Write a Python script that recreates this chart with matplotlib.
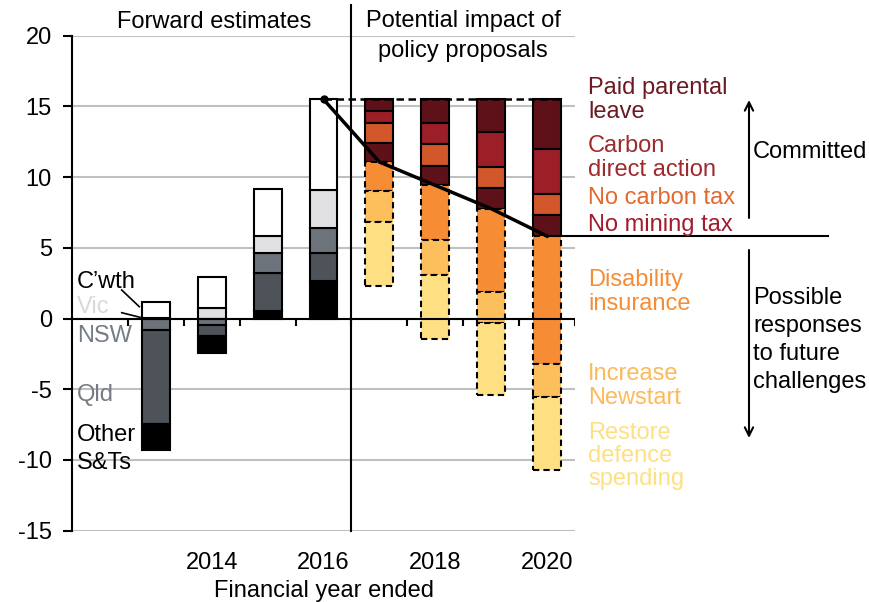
import numpy as np
import matplotlib.pyplot as plt
from matplotlib.patches import FancyArrowPatch
from matplotlib.lines import Line2D

plt.rcParams['font.family'] = ['Liberation Sans', 'DejaVu Sans']
plt.rcParams['font.size'] = 17
plt.rcParams['axes.unicode_minus'] = False

# forward estimates by jurisdiction
fwd_years = [2013, 2014, 2015, 2016]
cwth  = [1.15, 2.20, 3.33, 6.40]
vic   = [0.05, 0.75, 1.23, 2.67]
nsw   = [-0.80, -0.47, 1.42, 1.78]
qld   = [-6.63, -0.78, 2.67, 2.00]
other = [-1.85, -1.18, 0.52, 2.65]

# policy proposals (reduction from the 2016 level)
pol_years     = [2017, 2018, 2019, 2020]
paid_parental = [0.83, 1.66, 2.34, 3.54]
carbon_action = [0.83, 1.51, 2.44, 3.18]
no_carbon_tax = [1.42, 1.56, 1.46, 1.48]
no_mining_tax = [1.35, 1.35, 1.49, 1.47]
disability    = [2.07, 3.90, 5.91, 9.01]
newstart      = [2.18, 2.41, 2.19, 2.36]
defence       = [4.49, 4.56, 5.07, 5.20]

tick_years = [2014, 2016, 2018, 2020]

W, H = 870, 602

def px(x, y):
    return x / W, 1 - y / H

fig = plt.figure(figsize=(W / 100, H / 100), dpi=100)
ax = fig.add_axes([72 / W, 1 - 530.7 / H, (575 - 72) / W, (530.7 - 35.7) / H])

ax.set_xlim(2011.5, 2020.5)
ax.set_ylim(-15, 20)
ax.set_yticks(range(-15, 21, 5))
ax.yaxis.grid(True, color='#c0c0c0', lw=1.5)
ax.set_axisbelow(True)
for s in ['top', 'right', 'bottom']:
    ax.spines[s].set_visible(False)
ax.spines['left'].set_linewidth(1.5)
ax.tick_params(axis='y', direction='out', length=6.5, width=1.5, pad=8)
ax.set_xticks(tick_years)
ax.tick_params(axis='x', length=0, pad=15)
ax.set_xlabel('Financial year ended', labelpad=5)

bw = 0.5

#--- forward estimate bars
fwd_series = [(cwth, 'white'), (vic, '#e1e1e3'), (nsw, '#6d737b'),
              (qld, '#4e535a'), (other, 'black')]
for i, yr in enumerate(fwd_years):
    pos = 0.0
    for vals, col in reversed(fwd_series):
        v = vals[i]
        if v > 0:
            ax.bar(yr, v, bw, bottom=pos, color=col, edgecolor='black', lw=1.5, zorder=3)
            pos += v
    neg = 0.0
    for vals, col in fwd_series:
        v = vals[i]
        if v < 0:
            ax.bar(yr, v, bw, bottom=neg, color=col, edgecolor='black', lw=1.5, zorder=3)
            neg += v

start = cwth[-1] + vic[-1] + nsw[-1] + qld[-1] + other[-1]

#--- policy bars, stacked down from the 2016 level
committed = [(paid_parental, '#5e1118'), (carbon_action, '#9c1f27'),
             (no_carbon_tax, '#d2572b'), (no_mining_tax, '#5e1118')]
responses = [(disability, '#f68d35'), (newstart, '#fdbf5c'), (defence, '#fee083')]

base_line = []
for i, yr in enumerate(pol_years):
    lvl = start
    for vals, col in committed:
        ax.bar(yr, vals[i], bw, bottom=lvl - vals[i], color=col,
               edgecolor='black', lw=1.5, zorder=3)
        lvl -= vals[i]
    base_line.append(lvl)
    for vals, col in responses:
        ax.bar(yr, vals[i], bw, bottom=lvl - vals[i], color=col,
               edgecolor='black', lw=1.5, ls=(0, (3, 2)), zorder=3)
        lvl -= vals[i]

# zero axis with tick marks between categories
ax.axhline(0, color='black', lw=1.5, zorder=5)
ax.vlines(np.arange(2012.5, 2020.6, 1), 0, -0.55, color='black', lw=1.5, zorder=5)

# divider between forward estimates and proposals
ax.axvline(2016.5, ymin=0, ymax=1 + 30.7 / 495, color='black', lw=1.5, clip_on=False, zorder=5)

# top dashed level and path of committed measures
ax.plot([2016, 2020.25], [start, start], color='black', lw=1.8, ls=(0, (3, 1.8)), zorder=6)
ax.plot([2016] + pol_years, [start] + base_line, color='black', lw=2.5, zorder=6)
ax.plot([2016], [start], 'o', color='black', ms=5, zorder=7)
ax.plot([2020, 2025.02], [base_line[-1]] * 2, color='black', lw=1.5, clip_on=False, zorder=6)

#--- headers
fig.text(*px(214, 22), 'Forward estimates', ha='center', va='center')
fig.text(*px(463, 36), 'Potential impact of\npolicy proposals', ha='center', va='center',
         linespacing=1.45)

#--- left labels
fig.text(*px(77, 282), 'C\u2019wth', color='black', va='center')
fig.text(*px(77, 307), 'Vic', color='#d9d9d9', va='center')
fig.text(*px(77, 336), 'NSW', color='#767c84', va='center')
fig.text(*px(77, 395), 'Qld', color='#767c84', va='center')
fig.text(*px(77, 449), 'Other\nS&Ts', color='black', va='center', linespacing=1.37)
fig.add_artist(Line2D([121.7 / W, 139.3 / W], [1 - 290 / H, 1 - 306.7 / H], color='black', lw=1.2))
fig.add_artist(Line2D([121.7 / W, 140 / W], [1 - 312.7 / H, 1 - 317.3 / H], color='black', lw=1.2))

#--- right labels
fig.text(*px(588, 100), 'Paid parental\nleave', color='#6b1a20', va='center', linespacing=1.11)
fig.text(*px(588, 158), 'Carbon\ndirect action', color='#9e2a2e', va='center', linespacing=1.11)
fig.text(*px(588, 198), 'No carbon tax', color='#e06a30', va='center')
fig.text(*px(588, 225), 'No mining tax', color='#a01c30', va='center')
fig.text(*px(588, 292), 'Disability\ninsurance', color='#f68d35', va='center', linespacing=1.08)
fig.text(*px(588, 386), 'Increase\nNewstart', color='#fdb95a', va='center', linespacing=1.08)
fig.text(*px(588, 456), 'Restore\ndefence\nspending', color='#fee083', va='center', linespacing=1.06)

fig.text(*px(753, 152), 'Committed', color='black', va='center')
fig.text(*px(753, 340), 'Possible\nresponses\nto future\nchallenges', color='black',
         va='center', linespacing=1.37)

fig.add_artist(FancyArrowPatch(px(749, 218), px(749, 100), transform=fig.transFigure,
                               arrowstyle='->,head_length=6,head_width=3', lw=1.5,
                               color='black', shrinkA=0, shrinkB=0))
fig.add_artist(FancyArrowPatch(px(749, 250), px(749, 438), transform=fig.transFigure,
                               arrowstyle='->,head_length=6,head_width=3', lw=1.5,
                               color='black', shrinkA=0, shrinkB=0))

fig.savefig('out.png', dpi=100)
